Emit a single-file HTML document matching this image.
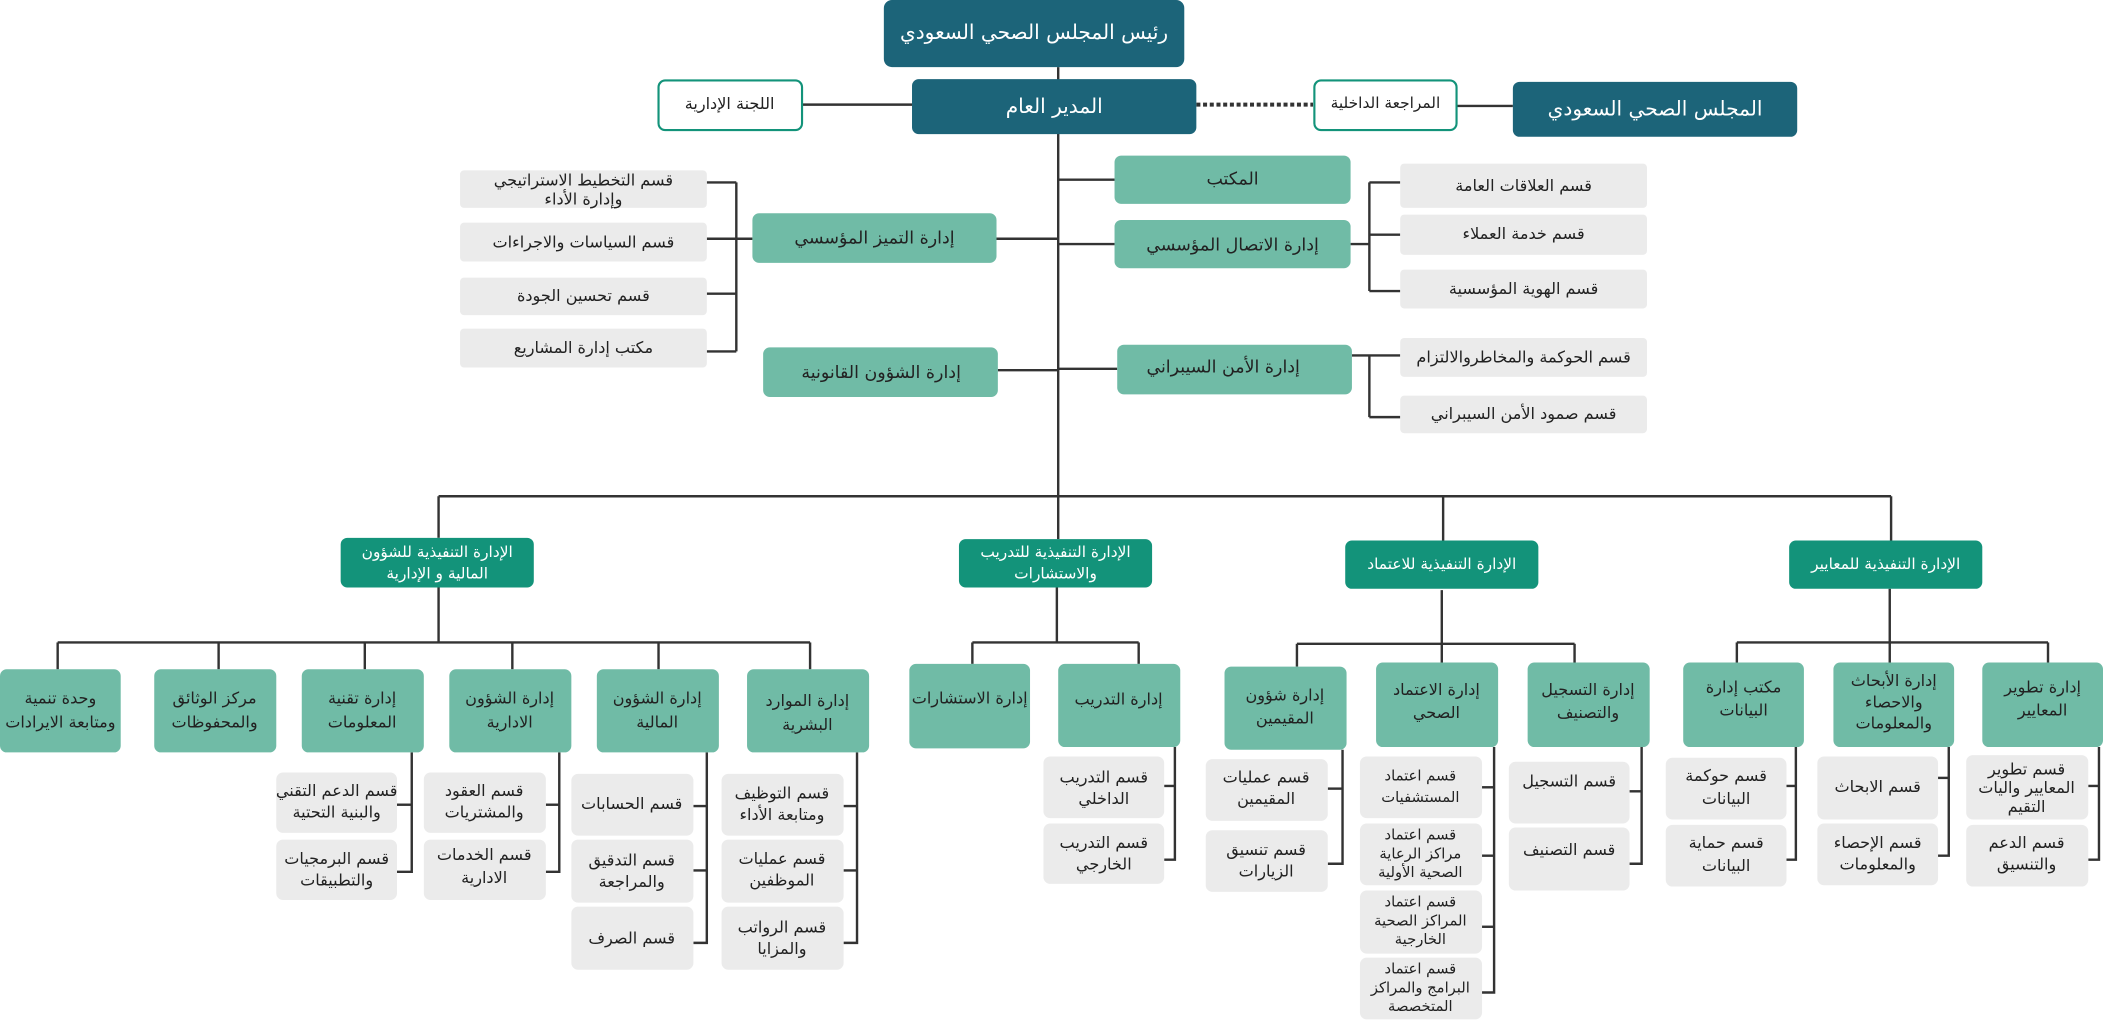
<!DOCTYPE html>
<html><head><meta charset="utf-8"><style>
html,body{margin:0;padding:0;background:#fff;}
svg{display:block;}
text{font-family:"DejaVu Sans","Noto Sans CJK SC",sans-serif;text-anchor:middle;dominant-baseline:middle;}
.d{fill:#1c6479}.e{fill:#13937a}.l{fill:#70bba6}.g{fill:#ebebeb}
.tw{fill:#fff}.tk{fill:#222}
line,polyline{stroke:#333;stroke-width:1.8;fill:none}
</style></head><body>
<svg width="2103" height="1022" viewBox="0 0 1568 762" xmlns="http://www.w3.org/2000/svg">
<!-- connectors -->
<line x1="789" y1="50" x2="789" y2="402"/>
<line x1="598" y1="78" x2="680" y2="78"/>
<line x1="892" y1="78" x2="979" y2="78" style="stroke-dasharray:3 2;stroke-width:3"/>
<line x1="1086" y1="79" x2="1128" y2="79"/>
<line x1="789" y1="134" x2="831" y2="134"/>
<line x1="789" y1="182" x2="831" y2="182"/>
<line x1="1007" y1="182" x2="1021" y2="182"/>
<line x1="1021" y1="136" x2="1021" y2="217"/>
<line x1="1021" y1="136" x2="1044" y2="136"/>
<line x1="1021" y1="175" x2="1044" y2="175"/>
<line x1="1021" y1="217" x2="1044" y2="217"/>
<line x1="789" y1="275" x2="833" y2="275"/>
<line x1="1008" y1="265" x2="1044" y2="265"/>
<line x1="1021" y1="265" x2="1021" y2="311"/>
<line x1="1021" y1="311" x2="1044" y2="311"/>
<line x1="743" y1="178" x2="789" y2="178"/>
<line x1="549" y1="136" x2="549" y2="262"/>
<line x1="527" y1="136" x2="549" y2="136"/>
<line x1="527" y1="178" x2="561" y2="178"/>
<line x1="527" y1="219" x2="549" y2="219"/>
<line x1="527" y1="262" x2="549" y2="262"/>
<line x1="744" y1="276" x2="789" y2="276"/>
<line x1="327" y1="370" x2="1410" y2="370"/>
<line x1="327" y1="370" x2="327" y2="401"/>
<line x1="1076" y1="370" x2="1076" y2="403"/>
<line x1="1410" y1="370" x2="1410" y2="403"/>
<!-- E1 -->
<line x1="327" y1="438" x2="327" y2="479"/>
<line x1="43" y1="479" x2="604" y2="479"/>
<line x1="43" y1="479" x2="43" y2="499"/><line x1="163" y1="479" x2="163" y2="499"/><line x1="272" y1="479" x2="272" y2="499"/><line x1="382" y1="479" x2="382" y2="499"/><line x1="491" y1="479" x2="491" y2="499"/><line x1="604" y1="479" x2="604" y2="499"/>
<polyline points="307,561 307,650 296,650"/><line x1="296" y1="600" x2="307" y2="600"/>
<polyline points="417,561 417,650 407,650"/><line x1="407" y1="600" x2="417" y2="600"/>
<polyline points="527,561 527,703 517,703"/><line x1="517" y1="601" x2="527" y2="601"/><line x1="517" y1="649" x2="527" y2="649"/>
<polyline points="639,561 639,703 629,703"/><line x1="629" y1="601" x2="639" y2="601"/><line x1="629" y1="649" x2="639" y2="649"/>
<!-- E2 -->
<line x1="788" y1="438" x2="788" y2="479"/>
<line x1="725" y1="479" x2="849" y2="479"/>
<line x1="725" y1="479" x2="725" y2="495"/><line x1="849" y1="479" x2="849" y2="495"/>
<polyline points="876,557 876,641 868,641"/><line x1="868" y1="586" x2="876" y2="586"/>
<!-- E3 -->
<line x1="1075" y1="440" x2="1075" y2="494"/>
<line x1="967" y1="480" x2="1174" y2="480"/>
<line x1="967" y1="480" x2="967" y2="497"/><line x1="1174" y1="480" x2="1174" y2="494"/>
<polyline points="1001,559 1001,644 990,644"/><line x1="990" y1="588" x2="1001" y2="588"/>
<polyline points="1114,557 1114,740 1105,740"/><line x1="1105" y1="587" x2="1114" y2="587"/><line x1="1105" y1="638" x2="1114" y2="638"/><line x1="1105" y1="691" x2="1114" y2="691"/>
<polyline points="1224,557 1224,644 1215,644"/><line x1="1215" y1="590" x2="1224" y2="590"/>
<!-- E4 -->
<line x1="1409" y1="439" x2="1409" y2="494"/>
<line x1="1295" y1="479" x2="1527" y2="479"/>
<line x1="1295" y1="479" x2="1295" y2="494"/><line x1="1527" y1="479" x2="1527" y2="494"/>
<polyline points="1339,557 1339,641 1332,641"/><line x1="1332" y1="586" x2="1339" y2="586"/>
<polyline points="1453,557 1453,638 1445,638"/><line x1="1445" y1="580" x2="1453" y2="580"/>
<polyline points="1565,557 1565,641 1557,641"/><line x1="1557" y1="586" x2="1565" y2="586"/>

<!-- top -->
<rect class="d" x="659" y="0" width="224" height="50" rx="6"/><text class="tw" x="771" y="25" font-size="15">رئيس المجلس الصحي السعودي</text>
<rect class="d" x="680" y="59" width="212" height="41" rx="5"/><text class="tw" x="786" y="80" font-size="15">المدير العام</text>
<rect x="491" y="60" width="107" height="37" rx="5" fill="#fff" stroke="#13937a" stroke-width="1.6"/><text class="tk" x="544" y="78" font-size="12">اللجنة الإدارية</text>
<rect x="980" y="60" width="106" height="37" rx="5" fill="#fff" stroke="#13937a" stroke-width="1.6"/><text class="tk" x="1033" y="77" font-size="11.5">المراجعة الداخلية</text>
<rect class="d" x="1128" y="61" width="212" height="41" rx="5"/><text class="tw" x="1234" y="82" font-size="15">المجلس الصحي السعودي</text>

<rect class="l" x="831" y="116" width="176" height="36" rx="5"/><text class="tk" x="919" y="134" font-size="13">المكتب</text>
<rect class="l" x="831" y="164" width="176" height="36" rx="5"/><text class="tk" x="919" y="183" font-size="13">إدارة الاتصال المؤسسي</text>
<rect class="l" x="833" y="257" width="175" height="37" rx="5"/><text class="tk" x="912" y="274" font-size="13">إدارة الأمن السيبراني</text>
<rect class="l" x="561" y="159" width="182" height="37" rx="5"/><text class="tk" x="652" y="178" font-size="13">إدارة التميز المؤسسي</text>
<rect class="l" x="569" y="259" width="175" height="37" rx="5"/><text class="tk" x="657" y="278" font-size="13">إدارة الشؤون القانونية</text>

<rect class="g" x="1044" y="122" width="184" height="33" rx="3"/><text class="tk" x="1136" y="139" font-size="12">قسم العلاقات العامة</text>
<rect class="g" x="1044" y="160" width="184" height="30" rx="3"/><text class="tk" x="1136" y="175" font-size="12">قسم خدمة العملاء</text>
<rect class="g" x="1044" y="201" width="184" height="29" rx="3"/><text class="tk" x="1136" y="216" font-size="12">قسم الهوية المؤسسية</text>
<rect class="g" x="1044" y="252" width="184" height="29" rx="3"/><text class="tk" x="1136" y="267" font-size="12">قسم الحوكمة والمخاطروالالتزام</text>
<rect class="g" x="1044" y="295" width="184" height="28" rx="3"/><text class="tk" x="1136" y="309" font-size="12">قسم صمود الأمن السيبراني</text>

<rect class="g" x="343" y="127" width="184" height="28" rx="3"/><text class="tk" x="435" y="135" font-size="12">قسم التخطيط الاستراتيجي</text><text class="tk" x="435" y="149" font-size="12">وإدارة الأداء</text>
<rect class="g" x="343" y="166" width="184" height="29" rx="3"/><text class="tk" x="435" y="181" font-size="12">قسم السياسات والاجراءات</text>
<rect class="g" x="343" y="207" width="184" height="28" rx="3"/><text class="tk" x="435" y="221" font-size="12">قسم تحسين الجودة</text>
<rect class="g" x="343" y="245" width="184" height="29" rx="3"/><text class="tk" x="435" y="260" font-size="12">مكتب إدارة المشاريع</text>

<!-- exec -->
<rect class="e" x="254" y="401" width="144" height="37" rx="5"/><text class="tw" x="326" y="412" font-size="11.5">الإدارة التنفيذية للشؤون</text><text class="tw" x="326" y="428" font-size="11.5">المالية و الإدارية</text>
<rect class="e" x="715" y="402" width="144" height="36" rx="5"/><text class="tw" x="787" y="412" font-size="11.5">الإدارة التنفيذية للتدريب</text><text class="tw" x="787" y="428" font-size="11.5">والاستشارات</text>
<rect class="e" x="1003" y="403" width="144" height="36" rx="5"/><text class="tw" x="1075" y="421" font-size="11.5">الإدارة التنفيذية للاعتماد</text>
<rect class="e" x="1334" y="403" width="144" height="36" rx="5"/><text class="tw" x="1406" y="421" font-size="11.5">الإدارة التنفيذية للمعايير</text>

<!-- E1 children -->
<g font-size="12">
<rect class="l" x="0" y="499" width="90" height="62" rx="5"/><text class="tk" x="45" y="521">وحدة تنمية</text><text class="tk" x="45" y="539">ومتابعة الايرادات</text>
<rect class="l" x="115" y="499" width="91" height="62" rx="5"/><text class="tk" x="160" y="521">مركز الوثائق</text><text class="tk" x="160" y="539">والمحفوظات</text>
<rect class="l" x="225" y="499" width="91" height="62" rx="5"/><text class="tk" x="270" y="521">إدارة تقنية</text><text class="tk" x="270" y="539">المعلومات</text>
<rect class="l" x="335" y="499" width="91" height="62" rx="5"/><text class="tk" x="380" y="521">إدارة الشؤون</text><text class="tk" x="380" y="539">الادارية</text>
<rect class="l" x="445" y="499" width="91" height="62" rx="5"/><text class="tk" x="490" y="521">إدارة الشؤون</text><text class="tk" x="490" y="539">المالية</text>
<rect class="l" x="557" y="499" width="91" height="62" rx="5"/><text class="tk" x="602" y="523">إدارة الموارد</text><text class="tk" x="602" y="541">البشرية</text>

<rect class="g" x="206" y="576" width="90" height="45" rx="5"/><text class="tk" x="251" y="590">قسم الدعم التقني</text><text class="tk" x="251" y="606">والبنية التحتية</text>
<rect class="g" x="206" y="626" width="90" height="45" rx="5"/><text class="tk" x="251" y="641">قسم البرمجيات</text><text class="tk" x="251" y="657">والتطبيقات</text>
<rect class="g" x="316" y="576" width="91" height="45" rx="5"/><text class="tk" x="361" y="590">قسم العقود</text><text class="tk" x="361" y="606">والمشتريات</text>
<rect class="g" x="316" y="626" width="91" height="45" rx="5"/><text class="tk" x="361" y="638">قسم الخدمات</text><text class="tk" x="361" y="655">الادارية</text>
<rect class="g" x="426" y="577" width="91" height="46" rx="5"/><text class="tk" x="471" y="600">قسم الحسابات</text>
<rect class="g" x="426" y="626" width="91" height="47" rx="5"/><text class="tk" x="471" y="642">قسم التدقيق</text><text class="tk" x="471" y="658">والمراجعة</text>
<rect class="g" x="426" y="676" width="91" height="47" rx="5"/><text class="tk" x="471" y="700">قسم الصرف</text>
<rect class="g" x="538" y="577" width="91" height="46" rx="5"/><text class="tk" x="583" y="592">قسم التوظيف</text><text class="tk" x="583" y="608">ومتابعة الأداء</text>
<rect class="g" x="538" y="626" width="91" height="47" rx="5"/><text class="tk" x="583" y="641">قسم عمليات</text><text class="tk" x="583" y="657">الموظفين</text>
<rect class="g" x="538" y="676" width="91" height="47" rx="5"/><text class="tk" x="583" y="692">قسم الرواتب</text><text class="tk" x="583" y="708">والمزايا</text>

<!-- E2 children -->
<rect class="l" x="678" y="495" width="90" height="63" rx="5"/><text class="tk" x="723" y="521">إدارة الاستشارات</text>
<rect class="l" x="789" y="495" width="91" height="62" rx="5"/><text class="tk" x="834" y="522">إدارة التدريب</text>
<rect class="g" x="778" y="564" width="90" height="46" rx="5"/><text class="tk" x="823" y="580">قسم التدريب</text><text class="tk" x="823" y="596">الداخلي</text>
<rect class="g" x="778" y="614" width="90" height="45" rx="5"/><text class="tk" x="823" y="629">قسم التدريب</text><text class="tk" x="823" y="645">الخارجي</text>

<!-- E3 children -->
<rect class="l" x="913" y="497" width="91" height="62" rx="5"/><text class="tk" x="958" y="519">إدارة شؤون</text><text class="tk" x="958" y="536">المقيمين</text>
<rect class="l" x="1026" y="494" width="91" height="63" rx="5"/><text class="tk" x="1071" y="515">إدارة الاعتماد</text><text class="tk" x="1071" y="532">الصحي</text>
<rect class="l" x="1139" y="494" width="91" height="63" rx="5"/><text class="tk" x="1184" y="515">إدارة التسجيل</text><text class="tk" x="1184" y="532">والتصنيف</text>
<rect class="g" x="899" y="566" width="91" height="46" rx="5"/><text class="tk" x="944" y="580">قسم عمليات</text><text class="tk" x="944" y="596">المقيمين</text>
<rect class="g" x="899" y="619" width="91" height="46" rx="5"/><text class="tk" x="944" y="634">قسم تنسيق</text><text class="tk" x="944" y="650">الزيارات</text>
<g font-size="11">
<rect class="g" x="1014" y="564" width="91" height="46" rx="5"/><text class="tk" x="1059" y="579">قسم اعتماد</text><text class="tk" x="1059" y="595">المستشفيات</text>
<rect class="g" x="1014" y="614" width="91" height="46" rx="5"/><text class="tk" x="1059" y="623">قسم اعتماد</text><text class="tk" x="1059" y="637">مراكز الرعاية</text><text class="tk" x="1059" y="651">الصحية الأولية</text>
<rect class="g" x="1014" y="664" width="91" height="47" rx="5"/><text class="tk" x="1059" y="673">قسم اعتماد</text><text class="tk" x="1059" y="687">المراكز الصحية</text><text class="tk" x="1059" y="701">الخارجية</text>
<rect class="g" x="1014" y="714" width="91" height="46" rx="5"/><text class="tk" x="1059" y="723">قسم اعتماد</text><text class="tk" x="1059" y="737">البرامج والمراكز</text><text class="tk" x="1059" y="751">المتخصصة</text>
</g>
<rect class="g" x="1125" y="568" width="90" height="46" rx="5"/><text class="tk" x="1170" y="583">قسم التسجيل</text>
<rect class="g" x="1125" y="617" width="90" height="47" rx="5"/><text class="tk" x="1170" y="634">قسم التصنيف</text>

<!-- E4 children -->
<rect class="l" x="1255" y="494" width="90" height="63" rx="5"/><text class="tk" x="1300" y="513">مكتب إدارة</text><text class="tk" x="1300" y="530">البيانات</text>
<rect class="l" x="1367" y="494" width="90" height="63" rx="5"/><text class="tk" x="1412" y="508">إدارة الأبحاث</text><text class="tk" x="1412" y="524">والاحصاء</text><text class="tk" x="1412" y="540">والمعلومات</text>
<rect class="l" x="1478" y="494" width="90" height="63" rx="5"/><text class="tk" x="1523" y="513">إدارة تطوير</text><text class="tk" x="1523" y="530">المعايير</text>
<rect class="g" x="1242" y="565" width="90" height="46" rx="5"/><text class="tk" x="1287" y="579">قسم حوكمة</text><text class="tk" x="1287" y="596">البيانات</text>
<rect class="g" x="1242" y="615" width="90" height="46" rx="5"/><text class="tk" x="1287" y="629">قسم حماية</text><text class="tk" x="1287" y="646">البيانات</text>
<rect class="g" x="1355" y="564" width="90" height="47" rx="5"/><text class="tk" x="1400" y="587">قسم الابحاث</text>
<rect class="g" x="1355" y="614" width="90" height="46" rx="5"/><text class="tk" x="1400" y="629">قسم الإحصاء</text><text class="tk" x="1400" y="645">والمعلومات</text>
<rect class="g" x="1466" y="563" width="91" height="48" rx="5"/><text class="tk" x="1511" y="574">قسم تطوير</text><text class="tk" x="1511" y="588">المعايير واليات</text><text class="tk" x="1511" y="602">التقيم</text>
<rect class="g" x="1466" y="615" width="91" height="46" rx="5"/><text class="tk" x="1511" y="629">قسم الدعم</text><text class="tk" x="1511" y="645">والتنسيق</text>
</g>
</svg>
</body></html>
